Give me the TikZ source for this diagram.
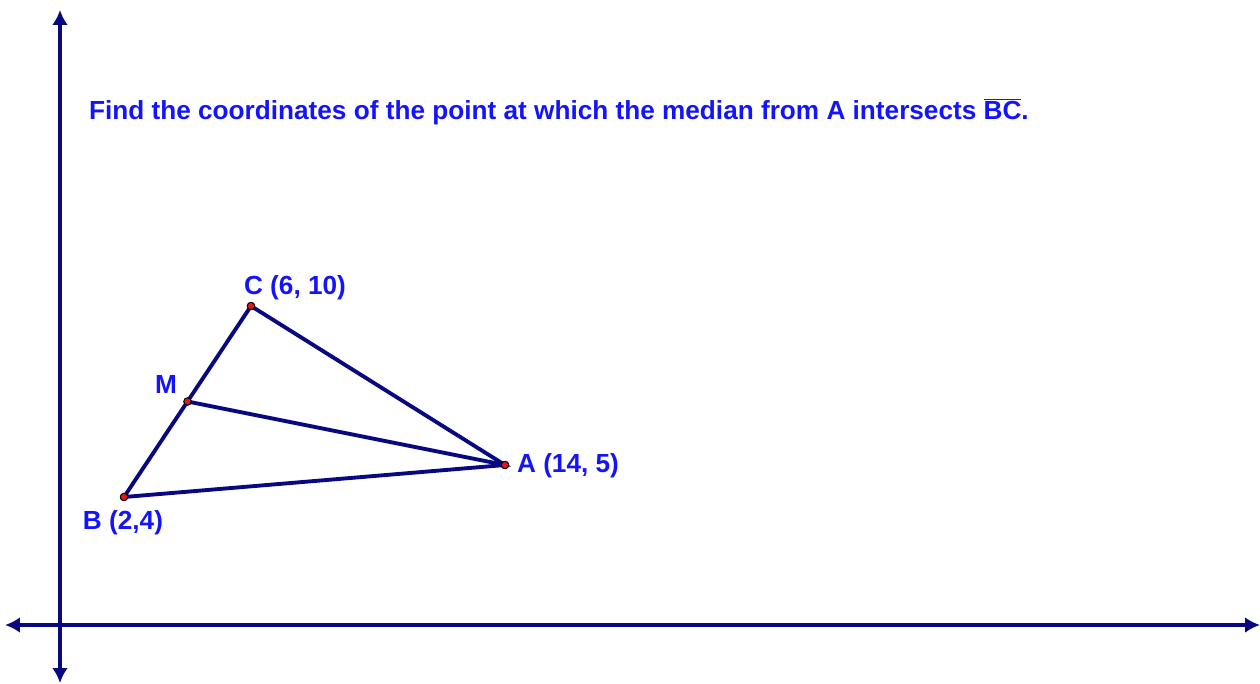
\documentclass[tikz,border=0pt]{standalone}
\usepackage{fontspec}
\setmainfont{Liberation Sans}
\usepackage{xcolor}
\usepackage{tikz}
\usetikzlibrary{positioning, arrows.meta}
\definecolor{axNavy}{RGB}{8, 8, 128}
\definecolor{lblBlue}{RGB}{20, 20, 250}
\definecolor{ptRed}{RGB}{235, 20, 20}

\begin{document}
\begin{tikzpicture}[
        x=0.02cm, y=-0.02cm,
        font=\fontsize{14.9}{17}\selectfont\bfseries\color{lblBlue},
        ax/.style={{Latex[length=8.5pt, width=9pt]}-{Latex[length=8.5pt, width=9pt]}, line width=2.6pt, axNavy},
        seg/.style={line width=2.2pt, axNavy},
        pt/.style={circle, draw=black, fill=ptRed, line width=0.5pt, inner sep=0pt, minimum size=4.2pt},
        lbl/.style={inner sep=1pt}
    ]
    \useasboundingbox (0,0) rectangle (1260,683);
    % axes
    \coordinate (xl) at (5,625);
    \coordinate (xr) at (1260,625);
    \coordinate (yt) at (60,10);
    \coordinate (yb) at (60,683);
    \draw[ax] (xl) -- (xr);
    \draw[ax] (yb) -- (yt);
    % triangle and median
    \node[pt] (C) at (251,306) {};
    \node[pt] (M) at (187.5,401.5) {};
    \node[pt] (A) at (505,465) {};
    \node[pt] (B) at (124,497) {};
    \draw[seg] (B.center) -- (C.center) -- (A.center) -- cycle;
    \draw[seg] (M.center) -- (A.center);
    \node[pt] at (C) {};
    \node[pt] at (M) {};
    \node[pt] at (A) {};
    \node[pt] at (B) {};
    % labels
    \node[lbl] (lC) at (295,287.5) {C (6, 10)};
    \node[lbl] (lM) at (166,384.5) {M};
    \node[lbl, anchor=west] (lA) at (515,465.5) {A (14, 5)};
    \node[lbl] (lB) at (123,522.5) {B (2,4)};
    \node[lbl, anchor=west] (title) at (87,111.5) {Find the coordinates of the point at which the median from A intersects $\overline{\hbox{BC}}$.};
\end{tikzpicture}
\end{document}
